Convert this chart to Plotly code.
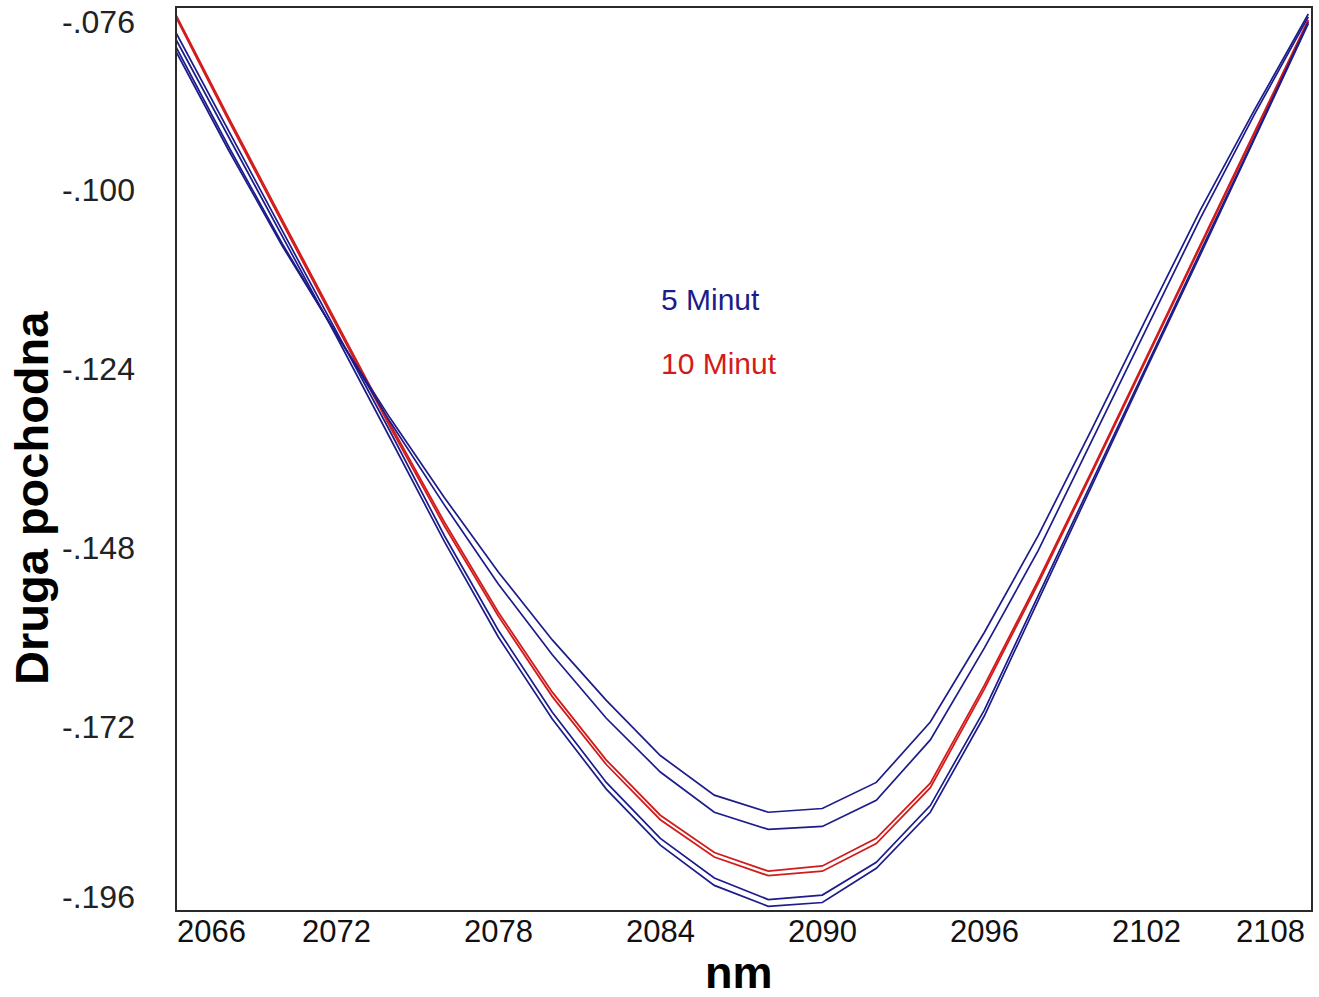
import plotly.graph_objects as go

# Wavelength grid (nm)
wavelength = [2066, 2068, 2070, 2072, 2074, 2076, 2078, 2080, 2082, 2084, 2086,
              2088, 2090, 2092, 2094, 2096, 2098, 2100, 2102, 2104, 2106, 2108]

# Second-derivative spectra, 5 minute samples
min5_a = [-0.0810, -0.0946, -0.1075, -0.1193, -0.1306, -0.1412, -0.1512, -0.1603,
          -0.1684, -0.1758, -0.1811, -0.1834, -0.1829, -0.1794, -0.1713, -0.1593,
          -0.1463, -0.1319, -0.1172, -0.1027, -0.0893, -0.0764]
min5_b = [-0.0804, -0.0941, -0.1072, -0.1193, -0.1311, -0.1422, -0.1528, -0.1623,
          -0.1708, -0.1780, -0.1834, -0.1857, -0.1853, -0.1818, -0.1737, -0.1614,
          -0.1483, -0.1335, -0.1185, -0.1038, -0.0899, -0.0768]
min5_c = [-0.0785, -0.0920, -0.1054, -0.1188, -0.1324, -0.1463, -0.1590, -0.1700,
          -0.1794, -0.1869, -0.1922, -0.1951, -0.1945, -0.1901, -0.1825, -0.1697,
          -0.1543, -0.1389, -0.1236, -0.1083, -0.0930, -0.0775]
min5_d = [-0.0794, -0.0928, -0.1062, -0.1196, -0.1333, -0.1471, -0.1599, -0.1709,
          -0.1803, -0.1878, -0.1932, -0.1960, -0.1955, -0.1909, -0.1834, -0.1705,
          -0.1550, -0.1394, -0.1240, -0.1087, -0.0933, -0.0777]

# Second-derivative spectra, 10 minute samples
min10_a = [-0.0761, -0.0902, -0.1040, -0.1177, -0.1314, -0.1445, -0.1566, -0.1673,
           -0.1764, -0.1838, -0.1888, -0.1913, -0.1906, -0.1869, -0.1795, -0.1664,
           -0.1523, -0.1375, -0.1224, -0.1074, -0.0924, -0.0772]
min10_b = [-0.0764, -0.0906, -0.1044, -0.1181, -0.1318, -0.1450, -0.1571, -0.1679,
           -0.1770, -0.1844, -0.1894, -0.1919, -0.1913, -0.1876, -0.1801, -0.1669,
           -0.1527, -0.1378, -0.1227, -0.1076, -0.0926, -0.0774]

x_ticks = [2066, 2072, 2078, 2084, 2090, 2096, 2102, 2108]
x_tick_text = ["2066", "2072", "2078", "2084", "2090", "2096", "2102", "2108"]
y_ticks = [-0.076, -0.100, -0.124, -0.148, -0.172, -0.196]
y_tick_text = ["-.076", "-.100", "-.124", "-.148", "-.172", "-.196"]

series_names = ["5 Minut", "10 Minut"]

BLUE = "#1c1c8a"
RED = "#d21c1c"
FONT = "Liberation Sans, Arial, sans-serif"

x_range = [2066.1, 2108.1]
y_range = [-0.1965, -0.0756]

fig = go.Figure()

for ys in (min10_a, min10_b):
    fig.add_trace(go.Scatter(x=wavelength, y=ys, mode="lines",
                             line=dict(color=RED, width=1.8),
                             showlegend=False, hoverinfo="skip"))
for ys in (min5_a, min5_b, min5_c, min5_d):
    fig.add_trace(go.Scatter(x=wavelength, y=ys, mode="lines",
                             line=dict(color=BLUE, width=1.7),
                             showlegend=False, hoverinfo="skip"))

annotations = []

# y tick labels, end labels pulled inside the frame
for i, (v, t) in enumerate(zip(y_ticks, y_tick_text)):
    shift = 0
    if i == 0:
        shift = -11
    elif i == len(y_ticks) - 1:
        shift = 9
    annotations.append(dict(x=0, xref="paper", y=v, yref="y", text=t,
                            xanchor="right", yanchor="middle", xshift=-40,
                            yshift=shift, showarrow=False,
                            font=dict(family=FONT, size=32, color="#222222")))

# x tick labels, first/last anchored to the frame edges
for i, (v, t) in enumerate(zip(x_ticks, x_tick_text)):
    anchor = "center"
    xv = v
    xs = 0
    if i == 0:
        anchor, xv, xs = "left", x_range[0], -2
    elif i == len(x_ticks) - 1:
        anchor, xv, xs = "right", x_range[1], -4
    annotations.append(dict(x=xv, xref="x", y=0, yref="paper", text=t,
                            xanchor=anchor, yanchor="top", xshift=xs, yshift=-2,
                            showarrow=False,
                            font=dict(family=FONT, size=31, color="#111111")))

# axis titles
annotations.append(dict(x=0.4956, xref="paper", y=0, yref="paper", text="<b>nm</b>",
                        xanchor="center", yanchor="middle", yshift=-62,
                        showarrow=False,
                        font=dict(family=FONT, size=45, color="#000000")))
annotations.append(dict(x=0, xref="paper", y=0.4568, yref="paper",
                        text="<b>Druga pochodna</b>", textangle=-90,
                        xanchor="center", yanchor="middle", xshift=-145,
                        showarrow=False,
                        font=dict(family=FONT, size=47, color="#000000")))

# series labels
for name, color, yp in zip(series_names, [BLUE, RED], [0.6763, 0.6064]):
    annotations.append(dict(x=0.4252, xref="paper", y=yp, yref="paper", text=name,
                            xanchor="left", yanchor="middle", showarrow=False,
                            font=dict(family=FONT, size=30, color=color)))

fig.update_layout(
    width=1319, height=997, autosize=False,
    margin=dict(l=177, r=6, t=8, b=87),
    paper_bgcolor="white", plot_bgcolor="white",
    annotations=annotations,
    xaxis=dict(range=x_range, showgrid=False, zeroline=False,
               showticklabels=False, ticks="",
               showline=True, mirror=True, linecolor="#2a2a2a", linewidth=2),
    yaxis=dict(range=y_range, showgrid=False, zeroline=False,
               showticklabels=False, ticks="",
               showline=True, mirror=True, linecolor="#2a2a2a", linewidth=2),
)

fig.write_html("out.html")
